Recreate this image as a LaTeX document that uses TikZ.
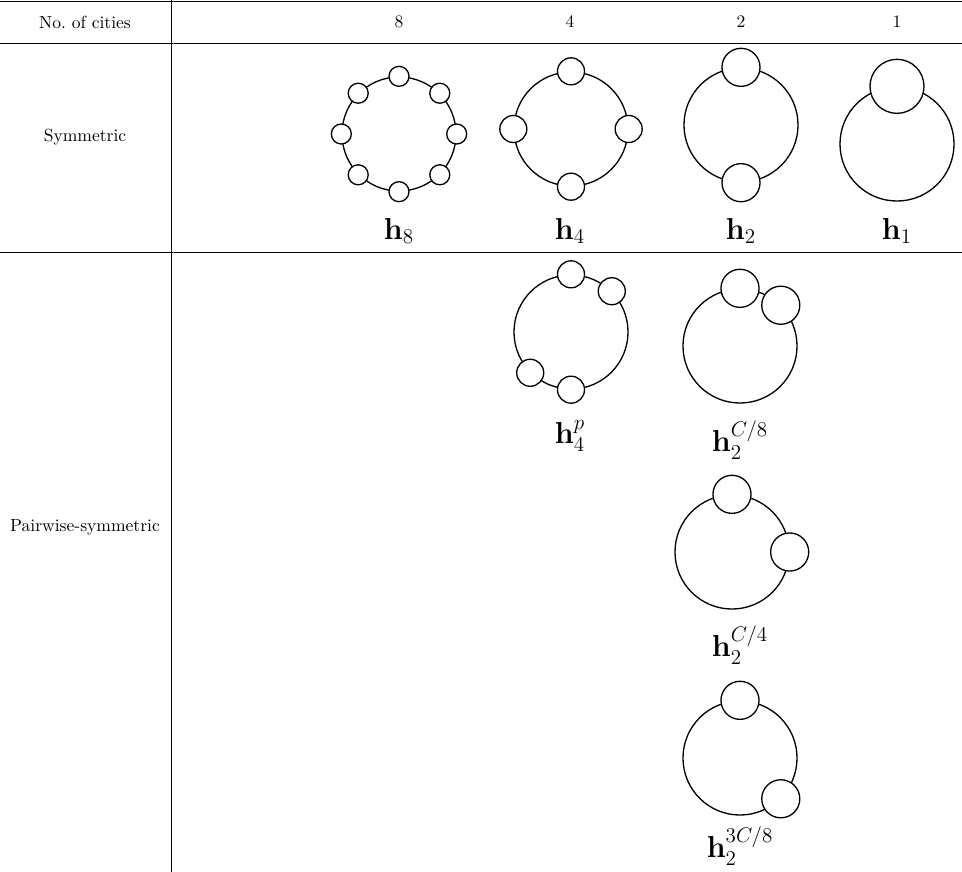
\documentclass[tikz,border=0pt]{standalone}
\usepackage{amsmath,amsbsy}
\usepackage{amssymb}
\usepackage{tikz}
\usetikzlibrary{positioning}
\tikzset{
  tur/.style      = {draw, circle, line width=0.75pt, inner sep=0pt, minimum size=65pt},
  oras/.style     = {draw, circle, fill=white, line width=0.75pt, inner sep=0pt},
  antet/.style    = {inner sep=0pt},
  eticheta/.style = {font=\LARGE, inner sep=0pt},
  linie/.style    = {line width=0.5pt}
}

\begin{document}
\begin{tikzpicture}[x=0.57pt, y=-0.57pt]
    \useasboundingbox (0,0) rectangle (962,872);

    % liniile tabelului
    \draw[linie] (0,1) -- (962,1);
    \draw[linie] (0,43) -- (962,43);
    \draw[linie] (0,252) -- (962,252);
    \draw[linie] (171,0) -- (171,872);

    % antet
    \node[antet] (nr)   at (85,22)  {No.\ of cities};
    \node[antet] (opt)  at (399,22) {8};
    \node[antet] (patru) at (570,22) {4};
    \node[antet] (doi)  at (741,22) {2};
    \node[antet] (unu)  at (897,22) {1};
    \node[antet] (sim)  at (85,137) {Symmetric};
    \node[antet] (per)  at (85,527) {Pairwise-symmetric};

    % rand simetric
    \node[tur] (r8) at (399,134) {};
    \foreach \a in {0,45,...,315}
        \node[oras, minimum size=11.4pt] at (r8.\a) {};
    \node[eticheta] (e8) at (399,231) {$\mathbf{h}_8$};

    \node[tur] (r4) at (571,129) {};
    \foreach \a in {0,90,180,270}
        \node[oras, minimum size=15.4pt] at (r4.\a) {};
    \node[eticheta] (e4) at (570,231) {$\mathbf{h}_4$};

    \node[tur] (r2) at (741,125) {};
    \foreach \a in {90,270}
        \node[oras, minimum size=21.7pt] at (r2.\a) {};
    \node[eticheta] (e2) at (741,231) {$\mathbf{h}_2$};

    \node[tur] (r1) at (897,144) {};
    \node[oras, minimum size=30.8pt] at (r1.90) {};
    \node[eticheta] (e1) at (897,231) {$\mathbf{h}_1$};

    % rand simetric pe perechi
    \node[tur] (rp) at (571,332) {};
    \foreach \a in {45,90,225,270}
        \node[oras, minimum size=15.4pt] at (rp.\a) {};
    \node[eticheta] (ep) at (570,436) {$\mathbf{h}_4^{p}$};

    \node[tur] (ra) at (740,346) {};
    \foreach \a in {45,90}
        \node[oras, minimum size=21.7pt] at (ra.\a) {};
    \node[eticheta] (ea) at (740,440) {$\mathbf{h}_2^{C/8}$};

    \node[tur] (rb) at (732,552) {};
    \foreach \a in {0,90}
        \node[oras, minimum size=21.7pt] at (rb.\a) {};
    \node[eticheta] (eb) at (740,645) {$\mathbf{h}_2^{C/4}$};

    \node[tur] (rc) at (740,758) {};
    \foreach \a in {-45,90}
        \node[oras, minimum size=21.7pt] at (rc.\a) {};
    \node[eticheta] (ec) at (740,846) {$\mathbf{h}_2^{3C/8}$};
\end{tikzpicture}
\end{document}
